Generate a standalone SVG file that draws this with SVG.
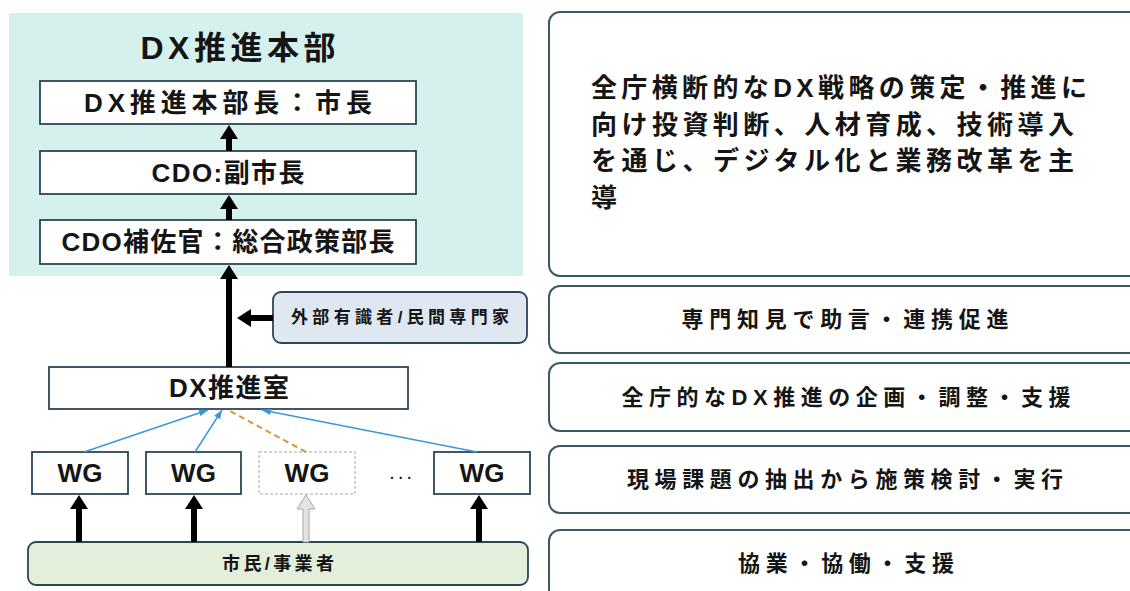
<svg xmlns="http://www.w3.org/2000/svg" width="1130" height="591" viewBox="0 0 1130 591">
<defs>
<style>
text{font-family:"Liberation Sans","Noto Sans CJK JP",sans-serif;fill:#151515;dominant-baseline:central;text-anchor:middle;font-weight:700}
text.l{text-anchor:start}
.box{fill:#fff;stroke:#2c4557;stroke-width:1.8}
.rbox{fill:#fff;stroke:#3b5869;stroke-width:2}
.thick{stroke:#000;stroke-width:6;fill:none}
.blue{stroke:#3b98d8;stroke-width:1.5;fill:none}
</style>
<marker id="head" markerUnits="userSpaceOnUse" viewBox="0 0 14 18" refX="0" refY="9" markerWidth="14" markerHeight="18" orient="auto">
<path d="M0,0 L14,9 L0,18 Z" fill="#000"/>
</marker>
<marker id="bhead" markerUnits="userSpaceOnUse" viewBox="0 0 9 7" refX="9" refY="3.5" markerWidth="9" markerHeight="7" orient="auto">
<path d="M0,0 L9,3.5 L0,7 Z" fill="#3b98d8"/>
</marker>
</defs>
<rect width="1130" height="591" fill="#fff"/>

<g id="hq">
<rect x="9" y="13" width="514" height="263" fill="#d5f1ee"/>
<text x="238" y="48" font-size="32" textLength="195">DX推進本部</text>
</g>
<g id="chief">
<rect class="box" x="40" y="81" width="376" height="43"/>
<text x="228" y="102.5" font-size="26" textLength="288">DX推進本部長：市長</text>
</g>
<g id="cdo">
<rect class="box" x="40" y="151" width="376" height="43"/>
<text x="228" y="172.5" font-size="26" textLength="153">CDO:副市長</text>
</g>
<g id="cdo-assist">
<rect class="box" x="40" y="220" width="376" height="44"/>
<text x="228" y="242" font-size="26" textLength="333">CDO補佐官：総合政策部長</text>
</g>
<g id="experts">
<rect x="273" y="292" width="254" height="51" rx="8" fill="#dfe7f1" stroke="#2c4557" stroke-width="1.8"/>
<text x="400" y="317.5" font-size="17" textLength="218">外部有識者/民間専門家</text>
</g>
<g id="dx-office">
<rect class="box" x="49" y="367" width="359" height="42"/>
<text x="229" y="388" font-size="26" textLength="120">DX推進室</text>
</g>
<g id="wg1">
<rect class="box" x="32" y="452" width="96" height="42"/>
<text x="80" y="472.5" font-size="26">WG</text>
</g>
<g id="wg2">
<rect class="box" x="146" y="452" width="95" height="42"/>
<text x="193.5" y="472.5" font-size="26">WG</text>
</g>
<g id="wg3">
<rect x="259" y="452" width="96" height="42" fill="#fff" stroke="#c4c4c4" stroke-width="1.5" stroke-dasharray="3 2"/>
<text x="307" y="472.5" font-size="26">WG</text>
</g>
<g id="ellipsis">
<text x="401" y="478" font-size="14" font-weight="400">· · ·</text>
</g>
<g id="wg4">
<rect class="box" x="434" y="452" width="96" height="42"/>
<text x="482" y="472.5" font-size="26">WG</text>
</g>
<g id="citizens">
<rect x="28" y="542" width="500" height="43" rx="8" fill="#e3efdb" stroke="#2c4557" stroke-width="1.8"/>
<text x="278" y="563.5" font-size="18" textLength="112">市民/事業者</text>
</g>

<g id="desc1">
<rect class="rbox" x="549" y="12" width="600" height="264" rx="11"/>
<text class="l" x="591" y="88" font-size="26" textLength="496">全庁横断的なDX戦略の策定・推進に</text>
<text class="l" x="591" y="124.5" font-size="26" textLength="483">向け投資判断、人材育成、技術導入</text>
<text class="l" x="591" y="161" font-size="26" textLength="483">を通じ、デジタル化と業務改革を主</text>
<text class="l" x="591" y="197.5" font-size="26">導</text>
</g>
<g id="desc2">
<rect class="rbox" x="549" y="286" width="600" height="67" rx="11"/>
<text x="845" y="319" font-size="22" textLength="327">専門知見で助言・連携促進</text>
</g>
<g id="desc3">
<rect class="rbox" x="549" y="363" width="600" height="68" rx="11"/>
<text x="846" y="397" font-size="22" textLength="449">全庁的なDX推進の企画・調整・支援</text>
</g>
<g id="desc4">
<rect class="rbox" x="549" y="446" width="600" height="67" rx="11"/>
<text x="845" y="479" font-size="22" textLength="436">現場課題の抽出から施策検討・実行</text>
</g>
<g id="desc5">
<rect class="rbox" x="549" y="530" width="600" height="70" rx="11"/>
<text x="846" y="563" font-size="22" textLength="216">協業・協働・支援</text>
</g>

<g id="connectors">
<line class="thick" x1="229" y1="151" x2="229" y2="139" marker-end="url(#head)"/>
<line class="thick" x1="229" y1="220" x2="229" y2="209" marker-end="url(#head)"/>
<line class="thick" x1="229" y1="367" x2="229" y2="279" marker-end="url(#head)"/>
<line class="thick" x1="273" y1="318" x2="251" y2="318" marker-end="url(#head)"/>
<line class="thick" x1="79" y1="542" x2="79" y2="509" marker-end="url(#head)"/>
<line class="thick" x1="194" y1="542" x2="194" y2="509" marker-end="url(#head)"/>
<line class="thick" x1="479" y1="542" x2="479" y2="509" marker-end="url(#head)"/>
<polygon points="303,542 303,509 297,509 306,495 315,509 309,509 309,542" fill="#e4e4e4" stroke="#a8a8a8" stroke-width="1"/>
<line class="blue" x1="84" y1="452" x2="208" y2="410" marker-end="url(#bhead)"/>
<line class="blue" x1="195" y1="452" x2="222" y2="410" marker-end="url(#bhead)"/>
<line class="blue" x1="477" y1="452" x2="262" y2="410" marker-end="url(#bhead)"/>
<line x1="306" y1="452" x2="230" y2="411" stroke="#d9953a" stroke-width="2" stroke-dasharray="6 4"/>
</g>
</svg>
